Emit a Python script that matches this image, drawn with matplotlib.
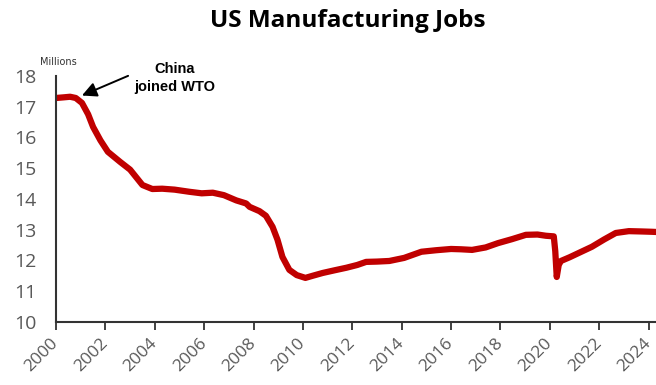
import matplotlib
matplotlib.use("Agg")
import matplotlib.pyplot as plt

# values (year, millions of jobs)
years = [2000.0, 2000.3, 2000.57, 2000.8, 2001.05, 2001.3, 2001.5, 2001.8, 2002.1,
         2002.6, 2003.0, 2003.5, 2003.9, 2004.3, 2004.8, 2005.4, 2005.9, 2006.35,
         2006.8, 2007.3, 2007.7, 2007.84, 2008.24, 2008.5, 2008.77, 2008.97, 2009.17,
         2009.45, 2009.75, 2010.1, 2010.4, 2010.8, 2011.3, 2011.76, 2012.2, 2012.56,
         2013.0, 2013.5, 2014.1, 2014.8, 2015.4, 2016.0, 2016.4, 2016.85, 2017.4,
         2017.9, 2018.47, 2019.03, 2019.5, 2019.84, 2020.16, 2020.22, 2020.28,
         2020.36, 2020.45, 2020.8, 2021.17, 2021.7, 2022.2, 2022.67, 2023.2, 2023.7,
         2024.1, 2024.4]
jobs = [17.28, 17.3, 17.32, 17.28, 17.12, 16.75, 16.34, 15.9, 15.53,
        15.2, 14.95, 14.45, 14.32, 14.33, 14.3, 14.23, 14.18, 14.2,
        14.12, 13.95, 13.85, 13.74, 13.6, 13.45, 13.09, 12.67, 12.11,
        11.69, 11.52, 11.43, 11.5, 11.59, 11.68, 11.76, 11.85, 11.95,
        11.96, 11.98, 12.08, 12.28, 12.33, 12.37, 12.36, 12.34, 12.42,
        12.56, 12.69, 12.83, 12.84, 12.8, 12.78, 12.3, 11.46,
        11.85, 11.98, 12.1, 12.24, 12.44, 12.68, 12.89, 12.95, 12.94,
        12.93, 12.92]

xticks = list(range(2000, 2025, 2))
yticks = list(range(10, 19))

fig = plt.figure(figsize=(6.56, 3.85), dpi=100)
ax = fig.add_axes([0.0854, 0.164, 0.9146, 0.639])

ax.plot(years, jobs, color="#C00000", linewidth=4.5, solid_capstyle="round")

ax.set_xlim(2000, 2024.3)
ax.set_ylim(10, 18)
ax.set_xticks(xticks)
ax.set_xticklabels([str(t) for t in xticks], rotation=45, ha="right", va="center",
                   rotation_mode="anchor", fontsize=12.5, color="#595959",
                   family="Open Sans")
ax.set_yticks(yticks)
ax.set_yticklabels([str(t) for t in yticks], fontsize=14, color="#595959",
                   family="Open Sans")
ax.tick_params(axis="x", direction="out", length=6, width=1.3, color="#333333", pad=8)
ax.tick_params(axis="y", length=0, pad=14)

for side in ["top", "right"]:
    ax.spines[side].set_visible(False)
for side in ["left", "bottom"]:
    ax.spines[side].set_color("#333333")
    ax.spines[side].set_linewidth(1.5)

fig.text(0.53, 0.945, "US Manufacturing Jobs", ha="center", va="center",
         fontsize=17.5, fontweight="bold", family="Open Sans")
fig.text(0.061, 0.84, "Millions", ha="left", va="center", fontsize=7,
         color="#333333")

ax.text(2004.8, 17.93, "China\njoined WTO", ha="center", va="center",
        fontsize=10.5, fontweight="bold", family="Liberation Sans",
        linespacing=1.45, clip_on=False)
ax.annotate("", xy=(2001.05, 17.36), xytext=(2002.92, 18.0),
            annotation_clip=False,
            arrowprops=dict(arrowstyle="-|>", color="black", lw=1.4,
                            mutation_scale=22, shrinkA=0, shrinkB=0))

fig.savefig("out.png", dpi=100)
